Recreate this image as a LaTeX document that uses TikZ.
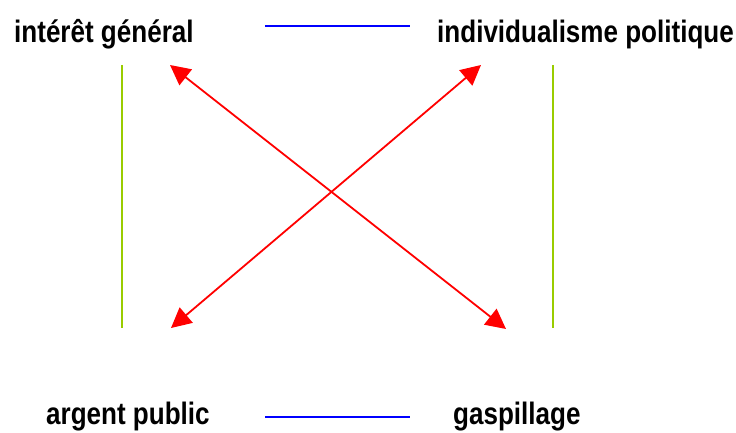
\documentclass[tikz,border=0pt]{standalone}
\usepackage{fontspec}
\setmainfont{Liberation Sans}[FakeStretch=0.84]
\usetikzlibrary{arrows.meta}
\definecolor{lgreen}{RGB}{153,204,0}
\tikzset{
  lbl/.style={anchor=base west, inner sep=0pt, font=\fontsize{31}{36}\selectfont\bfseries},
  bluelink/.style={draw=blue, line width=1.6pt},
  greenlink/.style={draw=lgreen, line width=1.6pt},
  redarrow/.style={draw=red, line width=1.8pt, {Triangle[length=20pt,width=20pt]}-{Triangle[length=20pt,width=20pt]}, color=red}
}
\begin{document}
\begin{tikzpicture}[x=1pt,y=-1pt]
\useasboundingbox (0,0) rectangle (736,433);
\node[lbl] (ig) at (14,43) {intérêt général};
\node[lbl] (ip) at (437,43) {individualisme politique};
\node[lbl] (ap) at (46,424) {argent public};
\node[lbl] (ga) at (453,424) {gaspillage};
\coordinate (bt1) at (265,26); \coordinate (bt2) at (410,26);
\coordinate (bb1) at (265,417); \coordinate (bb2) at (410,417);
\coordinate (gl1) at (122,65); \coordinate (gl2) at (122,328);
\coordinate (gr1) at (553,65); \coordinate (gr2) at (553,328);
\coordinate (a1) at (170,65); \coordinate (a2) at (506,329);
\coordinate (b1) at (481,65); \coordinate (b2) at (171,328);
\draw[bluelink] (bt1) -- (bt2);
\draw[bluelink] (bb1) -- (bb2);
\draw[greenlink] (gl1) -- (gl2);
\draw[greenlink] (gr1) -- (gr2);
\draw[redarrow] (a1) -- (a2);
\draw[redarrow] (b1) -- (b2);
\end{tikzpicture}
\end{document}
